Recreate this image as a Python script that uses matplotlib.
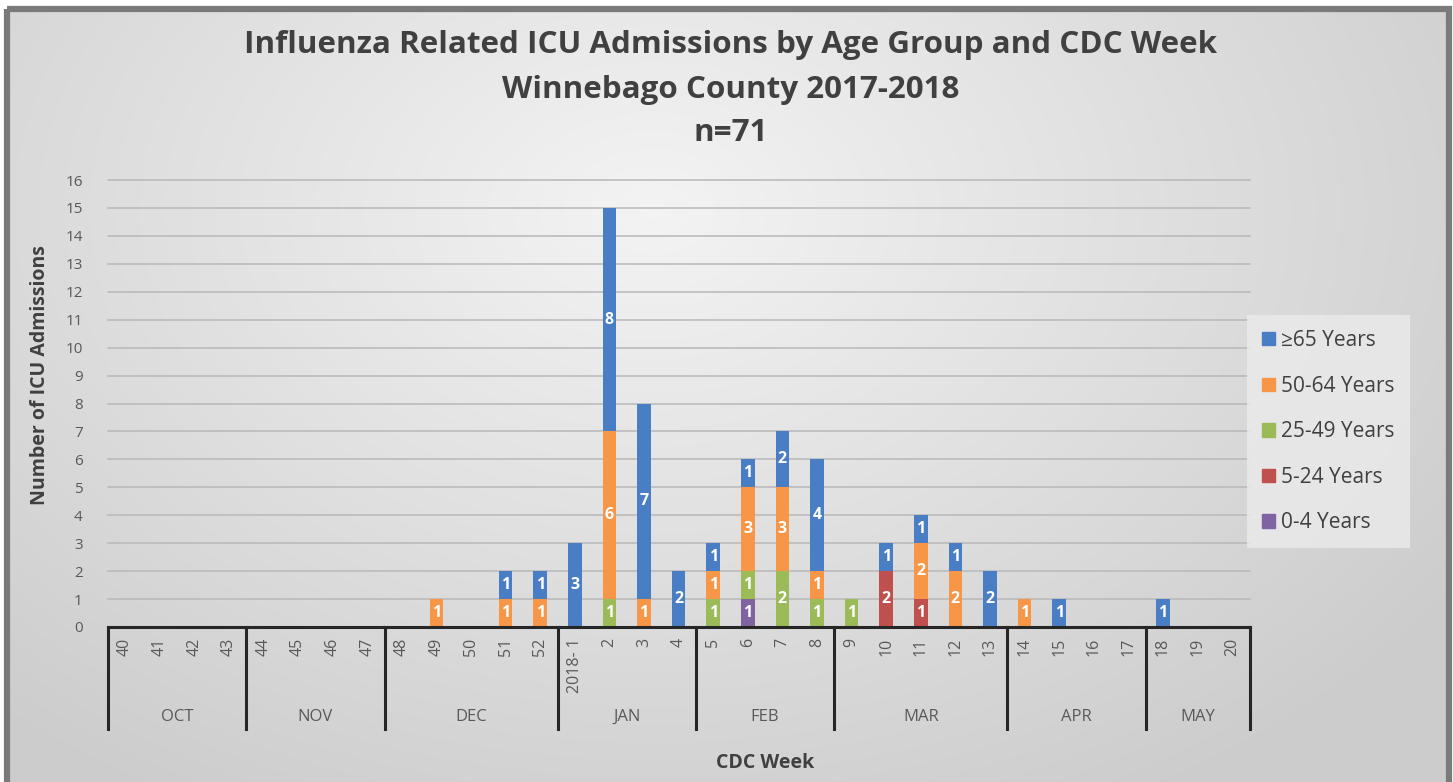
import matplotlib
matplotlib.use("Agg")
import matplotlib.pyplot as plt
import numpy as np
from matplotlib.patches import Rectangle
from matplotlib.lines import Line2D
import matplotlib.transforms as mtransforms

plt.rcParams['font.family'] = ['Open Sans', 'DejaVu Sans']

# ---------------- data ----------------
weeks = ["40", "41", "42", "43", "44", "45", "46", "47", "48", "49", "50", "51", "52",
         "2018- 1", "2", "3", "4", "5", "6", "7", "8", "9", "10", "11", "12", "13",
         "14", "15", "16", "17", "18", "19", "20"]
months = ["OCT", "NOV", "DEC", "JAN", "FEB", "MAR", "APR", "MAY"]
weeks_per_month = [4, 4, 5, 4, 4, 5, 4, 3]

groups = ["0-4 Years", "5-24 Years", "25-49 Years", "50-64 Years", "\u226565 Years"]
age_0_4 = [0]*13 + [0, 0, 0, 0, 0, 1, 0, 0, 0, 0, 0, 0, 0, 0, 0, 0, 0, 0, 0, 0]
age_5_24 = [0]*13 + [0, 0, 0, 0, 0, 0, 0, 0, 0, 2, 1, 0, 0, 0, 0, 0, 0, 0, 0, 0]
age_25_49 = [0]*13 + [0, 1, 0, 0, 1, 1, 2, 1, 1, 0, 0, 0, 0, 0, 0, 0, 0, 0, 0, 0]
age_50_64 = [0, 0, 0, 0, 0, 0, 0, 0, 0, 1, 0, 1, 1,
             0, 6, 1, 0, 1, 3, 3, 1, 0, 0, 2, 2, 0, 1, 0, 0, 0, 0, 0, 0]
age_65 = [0, 0, 0, 0, 0, 0, 0, 0, 0, 0, 0, 1, 1,
          3, 8, 7, 2, 1, 1, 2, 4, 0, 1, 1, 1, 2, 0, 1, 0, 0, 1, 0, 0]
series = [age_0_4, age_5_24, age_25_49, age_50_64, age_65]
colors = ["#8064A2", "#C0504D", "#9BBB59", "#F79646", "#4A7EC4"]

title_lines = ["Influenza Related ICU Admissions by Age Group and CDC Week",
               "Winnebago County 2017-2018",
               "n=71"]

# ---------------- figure ----------------
W, H = 1453, 782
fig = plt.figure(figsize=(W/100, H/100), dpi=100)
fig.patch.set_facecolor("white")

# background with radial gradient
bg = fig.add_axes([0, 0, 1, 1], zorder=-5)
bg.set_xlim(0, W)
bg.set_ylim(H, 0)
bg.axis("off")
yy, xx = np.mgrid[0:H:2, 0:W:2]
r = np.sqrt(((xx - 650) / 1000.0) ** 2 + ((yy - 200) / 700.0) ** 2)
r = np.clip(r, 0, 1)
lo = np.array([0.955, 0.955, 0.955])
hi = np.array([0.80, 0.80, 0.80])
img = lo[None, None, :] * (1 - r[..., None]) + hi[None, None, :] * r[..., None]
bg.imshow(img, extent=[10, 1446, 782, 12], aspect="auto", interpolation="bilinear", zorder=0)
bg.add_patch(Rectangle((7, 9), 1442, 790, fill=False, edgecolor="#7a7a7a",
                       linewidth=4.5, zorder=2))

# main axes
left_px, right_px = 107.7, 1249.5
bottom_px, top_px = 627, 180
ax = fig.add_axes([left_px / W, 1 - bottom_px / H,
                   (right_px - left_px) / W, (bottom_px - top_px) / H])
ax.patch.set_alpha(0)
n = len(weeks)
x = np.arange(n)
ax.set_xlim(-0.5, n - 0.5)
ax.set_ylim(0, 16)

for y in range(1, 17):
    ax.axhline(y, color="#b8b8b8", lw=1.1, zorder=0, clip_on=False)

bottom = np.zeros(n)
for vals, col in zip(series, colors):
    vals = np.array(vals, dtype=float)
    ax.bar(x, vals, width=0.39, bottom=bottom, color=col, zorder=3)
    for i, v in enumerate(vals):
        if v > 0:
            ax.text(x[i], bottom[i] + v / 2, f"{int(v)}", ha="center", va="center",
                    color="white", fontsize=11.5, fontweight="bold", zorder=4)
    bottom += vals

for s in ["top", "right", "left"]:
    ax.spines[s].set_visible(False)
ax.spines["bottom"].set_color("#262626")
ax.spines["bottom"].set_linewidth(2.2)
ax.spines["bottom"].set_zorder(5)

ax.set_yticks(range(0, 17))
ax.tick_params(axis="y", length=0, labelsize=11, labelcolor="#595959", pad=18)
ax.set_xticks(x)
ax.set_xticklabels(weeks, rotation=90, fontsize=11.5, color="#595959", va="top")
ax.tick_params(axis="x", length=0, pad=8)

# month separators and labels
trans = mtransforms.blended_transform_factory(ax.transData, ax.transAxes)
sep_depth = -(729 - 627) / (bottom_px - top_px)
bounds = np.concatenate([[0], np.cumsum(weeks_per_month)]) - 0.5
for b in bounds:
    ax.add_line(Line2D([b, b], [0, sep_depth], transform=trans, color="#262626",
                       lw=2.2, clip_on=False, zorder=5))
month_y = -(717 - 627) / (bottom_px - top_px)
for i, m in enumerate(months):
    ax.text((bounds[i] + bounds[i + 1]) / 2, month_y, m, transform=trans,
            ha="center", va="center", fontsize=12, color="#595959")

# axis titles
bg.text(765, 763, "CDC Week", ha="center", va="center", fontsize=14,
        fontweight="bold", color="#404040")
bg.text(40, 375, "Number of ICU Admissions", ha="center", va="center", rotation=90,
        fontsize=14, fontweight="bold", color="#404040")

# title
for ty, t in zip([45, 90, 133], title_lines):
    bg.text(731, ty, t, ha="center", va="center", fontsize=22.6,
            fontweight="bold", color="#404040")

# legend
leg = ax.legend(handles=[Rectangle((0, 0), 1, 1, color=c) for c in colors[::-1]],
                labels=groups[::-1], loc="upper left",
                bbox_to_anchor=((1247 - left_px) / (right_px - left_px),
                                (bottom_px - 315) / (bottom_px - top_px)),
                frameon=True, fontsize=15, labelcolor="#404040",
                handlelength=0.62, handleheight=0.62, handletextpad=0.3,
                labelspacing=1.18, borderpad=0.72, borderaxespad=0)
leg.get_frame().set_facecolor("#ebebeb")
leg.get_frame().set_alpha(0.8)
leg.get_frame().set_edgecolor("none")
leg.get_frame().set_boxstyle("square", pad=0)

fig.savefig("out.png", dpi=100)
